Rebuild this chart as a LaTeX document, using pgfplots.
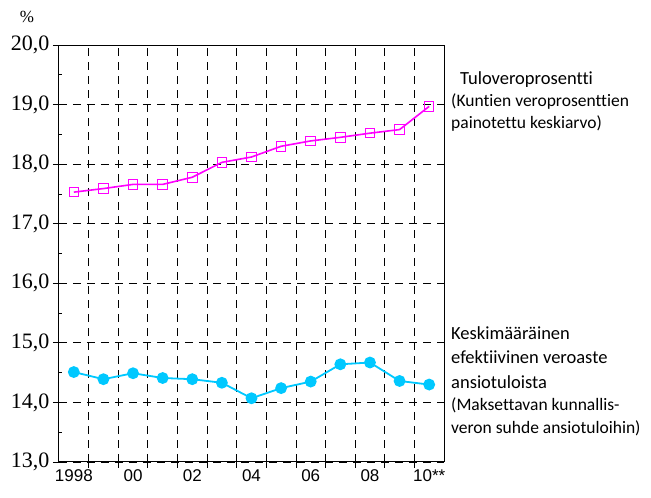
\documentclass[border=0pt]{standalone}
\usepackage{pgfplots}
\pgfplotsset{compat=1.18}
\usepackage{fontspec}
\setmainfont{Liberation Serif}
\newfontfamily\xfont{Liberation Sans}
\newfontfamily\lblfont[Ligatures=NoCommon]{Carlito}
\definecolor{mag}{RGB}{255,0,255}
\definecolor{cy}{RGB}{0,200,255}
\begin{document}
\begin{tikzpicture}
\begin{axis}[
  at={(0pt,0pt)}, anchor=south west,
  scale only axis, width=385pt, height=417pt,
  xmin=-0.5, xmax=12.5, ymin=13, ymax=20,
  axis line style={black, line width=1pt},
  xtick={0.5,1.5,...,11.5}, xticklabels={},
  extra x ticks={0,2,4,6,8,10,12},
  extra x tick labels={1998,00,02,04,06,08,10**},
  extra x tick style={major tick length=0pt, grid=none},
  xticklabel style={font=\xfont\fontsize{17}{17}\selectfont, yshift=-4pt},
  xmajorgrids, ymajorgrids,
  grid style={black, dash pattern=on 8pt off 6pt, line width=0.8pt},
  ytick={13,14,...,20}, minor ytick={13.5,14.5,...,19.5},
  yticklabel style={font=\fontsize{22}{22}\selectfont,
    /pgf/number format/.cd, fixed, fixed zerofill, precision=1, use comma, assume math mode=true},
  tick align=outside, xtick pos=lower, ytick pos=left,
  major tick length=6pt, minor tick length=3pt,
  minor y tick style={xshift=3pt},
  tick style={black, line width=0.8pt},
  clip=false,
]
\addplot[mag, line width=1.6pt, mark=square, mark size=4.8pt, mark options={solid, line width=1pt}] coordinates {
(0,17.53) (1,17.59) (2,17.66) (3,17.66) (4,17.78) (5,18.03) (6,18.12) (7,18.30) (8,18.39) (9,18.45) (10,18.52) (11,18.58) (12,18.97)
};
\addplot[cy, line width=1.8pt, mark=*, mark size=5pt, mark options={solid, fill=cy, draw=cy}] coordinates {
(0,14.51) (1,14.39) (2,14.49) (3,14.41) (4,14.39) (5,14.33) (6,14.07) (7,14.24) (8,14.35) (9,14.64) (10,14.67) (11,14.36) (12,14.30)
};
\end{axis}
\node[anchor=center, font=\fontsize{17}{17}\selectfont] at (-32pt,445pt) {\%};
\begin{scope}[every node/.style={anchor=west, inner sep=0pt}]
\node[font=\lblfont\fontsize{18.5}{18.5}\selectfont] at (401pt,382pt) {Tuloveroprosentti};
\node[font=\lblfont\fontsize{17.5}{17.5}\selectfont] at (392pt,360pt) {(Kuntien veroprosenttien};
\node[font=\lblfont\fontsize{17.5}{17.5}\selectfont] at (392pt,338pt) {painotettu keskiarvo)};
\node[font=\lblfont\fontsize{18.5}{18.5}\selectfont] at (392pt,128.7pt) {Keskimääräinen};
\node[font=\lblfont\fontsize{18.5}{18.5}\selectfont] at (392pt,105.3pt) {efektiivinen veroaste};
\node[font=\lblfont\fontsize{18.5}{18.5}\selectfont] at (392pt,80.3pt) {ansiotuloista};
\node[font=\lblfont\fontsize{17.5}{17.5}\selectfont] at (392pt,57pt) {(Maksettavan kunnallis-};
\node[font=\lblfont\fontsize{17.5}{17.5}\selectfont] at (392pt,33.7pt) {veron suhde ansiotuloihin)};
\end{scope}
\pgfresetboundingbox
\path (-59pt,-36pt) rectangle (592pt,462pt);
\end{tikzpicture}
\end{document}
